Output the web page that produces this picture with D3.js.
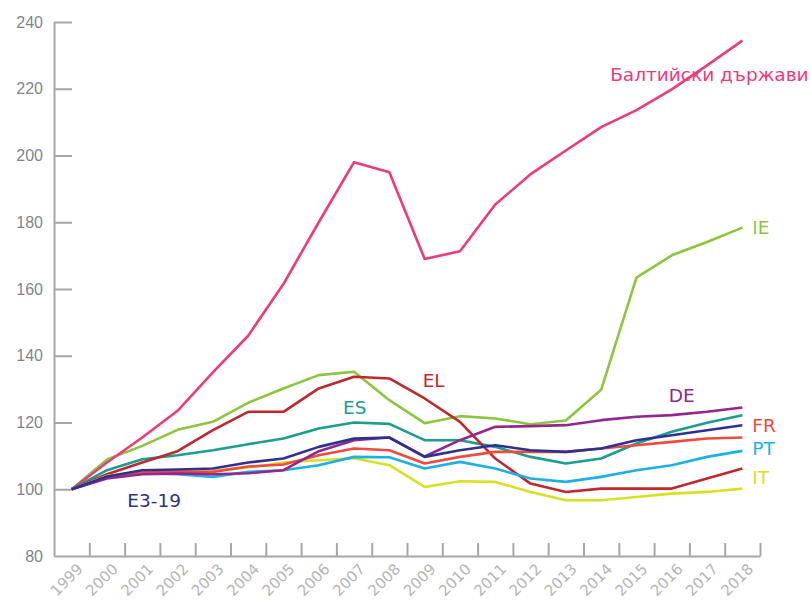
<!DOCTYPE html>
<html lang="bg">
<head>
<meta charset="UTF-8">
<title>Индекс</title>
<script src="https://cdn.jsdelivr.net/npm/d3@7"></script>
<style>
  body { margin: 0; background: #fff; }
  svg { display: block; font-family: "DejaVu Sans", sans-serif; }
</style>
</head>
<body>
<div id="chart"></div>
<script>
// years on the x axis
var years = d3.range(1999, 2019);
var yTicks = [80, 100, 120, 140, 160, 180, 200, 220, 240];

// series values (index, 1999 = 100)
var baltic = [100, 108, 115.5, 123.5, 135, 146, 161.5, 180, 198, 195, 169, 171.3, 185.3, 194.4, 201.5, 208.5, 213.6, 219.8, 227, 234.4];
var ie = [100, 108.9, 113, 117.8, 120.2, 125.9, 130.2, 134.2, 135.2, 126.7, 119.8, 121.9, 121.2, 119.5, 120.6, 129.8, 163.4, 170.1, 174.1, 178.4];
var es = [100, 105.7, 109, 110.2, 111.7, 113.5, 115.2, 118.2, 120, 119.6, 114.7, 114.7, 112.7, 109.7, 107.7, 109.2, 113.7, 117.2, 119.9, 122.2];
var el = [100, 104.5, 108, 111.4, 117.7, 123.2, 123.2, 130.2, 133.7, 133.2, 127.2, 120.2, 109.2, 101.7, 99.2, 100.2, 100.2, 100.2, 103.2, 106.2];
var it = [100, 104, 105.2, 105.5, 105.5, 106.5, 108, 108.7, 109.3, 107.2, 100.7, 102.4, 102.2, 99.2, 96.7, 96.7, 97.7, 98.7, 99.2, 100.2];
var pt = [100, 103.5, 104.7, 104.5, 103.7, 105.2, 105.7, 107.2, 109.7, 109.6, 106.2, 108.2, 106.2, 103.2, 102.2, 103.7, 105.7, 107.2, 109.7, 111.5];
var fr = [100, 103.5, 105, 105.2, 105.2, 106.8, 107.4, 110.2, 112.2, 111.7, 107.7, 109.7, 111.2, 111.2, 111.2, 112.2, 113.2, 114.2, 115.2, 115.5];
var de = [100, 103.2, 104.5, 104.7, 104.5, 104.8, 105.7, 111.4, 114.7, 115.5, 109.8, 114.7, 118.7, 118.9, 119.2, 120.7, 121.7, 122.2, 123.2, 124.5];
var ea = [100, 103.8, 105.7, 105.9, 106.2, 108, 109.2, 112.7, 115.2, 115.5, 109.7, 111.7, 113.2, 111.7, 111.2, 112.2, 114.7, 116.2, 117.7, 119.2];

var names = ["Балтийски държави", "IE", "ES", "EL", "IT", "PT", "FR", "DE", "E3-19"];
var values = [baltic, ie, es, el, it, pt, fr, de, ea];
var colors = ["#ec3a7d", "#8cc63f", "#1a9e8f", "#c1272d", "#d9e021", "#1cb1e6", "#ef4a3e", "#92278f", "#2e3192"];
// draw order: later ones on top
var order = [1, 0, 2, 3, 4, 5, 6, 7, 8];

// label anchors in data space: [year, value, dx]
var labelAt = [[2014, 224.3, 9], [2018, 178.4, 10], [2007, 124.6, -11], [2009, 132.7, -2],
               [2018, 103.7, 10], [2018, 112.4, 10], [2018, 119.2, 10], [2016, 128.2, -3], [2001, 96.8, -15]];

var W = 811, H = 603;
var svg = d3.select("#chart").append("svg").attr("width", W).attr("height", H);

var x = d3.scalePoint().domain(years).range([54, 760]).padding(0.5);
var y = d3.scaleLinear().domain([80, 240]).range([556, 22]);
var xb = d3.scaleLinear().domain([0, years.length]).range([54, 760]); // band edges for ticks

var axisColor = "#a6a6a6";

// y axis, ticks pointing into the plot
var gy = svg.append("g").attr("transform", "translate(54,0)")
  .call(d3.axisLeft(y).tickValues(yTicks).tickSize(-18).tickSizeOuter(0).tickPadding(11));
gy.selectAll(".tick line").attr("stroke", axisColor).attr("stroke-width", 2)
  .filter(function(d){ return d == 80; }).remove();
gy.select(".domain").attr("stroke", axisColor).attr("stroke-width", 2);
gy.selectAll("text").attr("fill", "#80868e").style("font-size", "16px");

// x axis, ticks at band edges
var gx = svg.append("g").attr("transform", "translate(0,556)")
  .call(d3.axisBottom(xb).tickValues(d3.range(1, years.length + 1)).tickSize(-13).tickSizeOuter(0).tickFormat(""));
gx.selectAll(".tick line").attr("stroke", axisColor).attr("stroke-width", 2);
gx.select(".domain").attr("stroke", axisColor).attr("stroke-width", 2);

// year labels, slanted; kept inside the bottom edge
svg.append("g").selectAll("text").data(years).enter().append("text")
  .attr("transform", function(d){ return "translate(" + (x(d) + 12) + ",570) rotate(-45)"; })
  .attr("text-anchor", "end")
  .attr("fill", "#b5b5b5")
  .style("font-size", "15px")
  .text(function(d){ return d; });

var line = d3.line()
  .x(function(d, i){ return x(years[i]); })
  .y(function(d){ return y(d); });

svg.append("g").selectAll("path").data(order).enter().append("path")
  .attr("d", function(k){ return line(values[k]); })
  .attr("fill", "none")
  .attr("stroke", function(k){ return colors[k]; })
  .attr("stroke-width", 2.6)
  .attr("stroke-linejoin", "round");

svg.append("g").selectAll("text").data(names).enter().append("text")
  .attr("x", function(d, i){ return x(labelAt[i][0]) + labelAt[i][2]; })
  .attr("y", function(d, i){ return y(labelAt[i][1]); })
  .attr("dy", "0.36em")
  .attr("fill", function(d, i){ return colors[i]; })
  .style("font-size", "18.5px")
  .text(function(d){ return d; });
</script>
</body>
</html>
